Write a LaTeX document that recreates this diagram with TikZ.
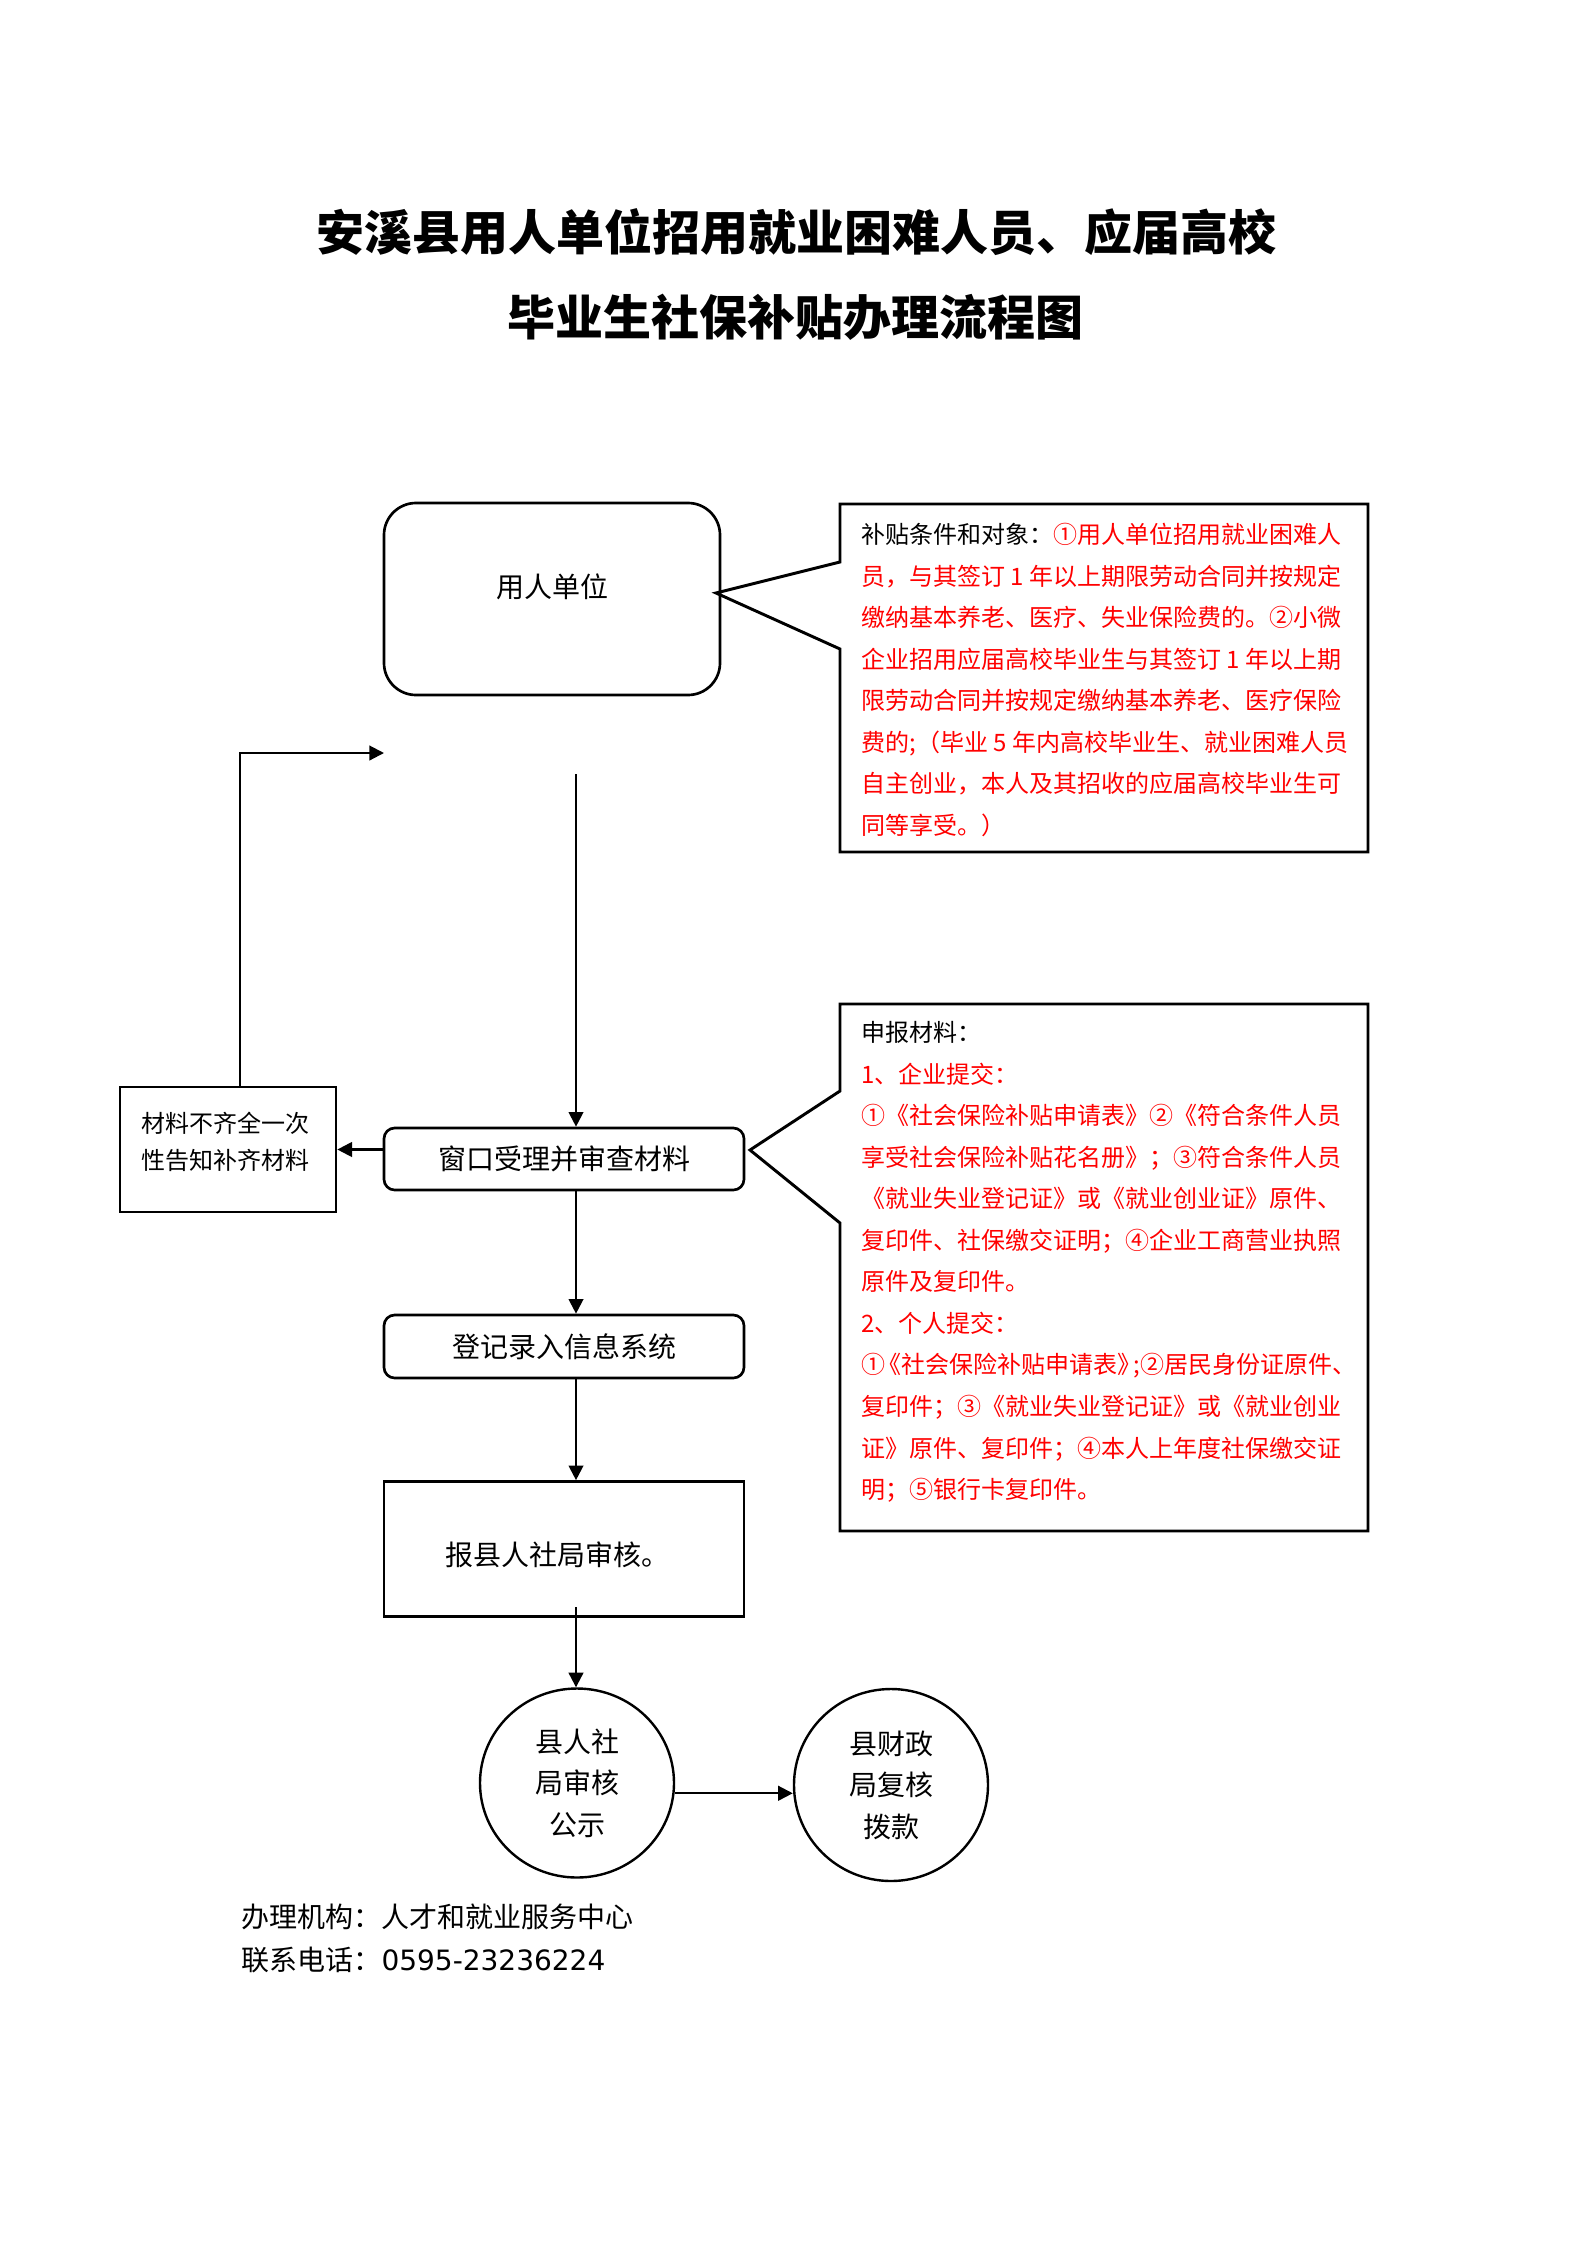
\documentclass[tikz,border=0pt]{standalone}
\usepackage{fontspec}
\setmainfont{Noto Sans CJK SC}
\newfontfamily\dejavu{DejaVu Sans}
\usetikzlibrary{arrows.meta,shapes.geometric}
\newlength\pxu
\setlength\pxu{0.375pt}
\begin{document}
\begin{tikzpicture}[x=0.375pt,y=-0.375pt,
  boxline/.style={draw, line width=1pt, inner sep=0pt},
  rbox/.style={boxline, rounded corners=4pt},
  arr/.style={line width=0.8pt, -{Triangle[length=5.5pt,width=5.5pt]}},
  txt/.style={inner sep=0pt, font=\fontsize{10.5pt}{15.6pt}\selectfont},
  smalltxt/.style={inner sep=0pt, align=left, font=\fontsize{9pt}{15.57pt}\selectfont},
  callout/.style={line width=1.1pt, line join=miter},
  oval/.style={ellipse, draw, line width=0.9pt, inner sep=0pt, align=center, txt},
  titletxt/.style={inner sep=0pt, font=\fontsize{18pt}{22pt}\selectfont\bfseries}
]
\useasboundingbox (0,0) rectangle (1587,2245);
\fill[white] (0,0) rectangle (1587,2245);

% title
\node[titletxt] (title1) at (796,232) {安溪县用人单位招用就业困难人员、应届高校};
\node[titletxt] (title2) at (795,317) {毕业生社保补贴办理流程图};

% employer
\node[boxline, rounded corners=12pt, minimum width=336\pxu, minimum height=192\pxu] (unit) at (552,599) {};
\node[txt] (unitlbl) at (552,587) {用人单位};

% callout 1
\coordinate (tip1) at (716,593);
\draw[callout] (840,504) -- (1368,504) -- (1368,852) -- (840,852) -- (840,649) -- (tip1) -- (840,562) -- cycle;
\node[smalltxt, text=red, anchor=west] (cond) at (861,680) {\textcolor{black}{补贴条件和对象：}①用人单位招用就业困难人\\
员，与其签订 1 年以上期限劳动合同并按规定\\
缴纳基本养老、医疗、失业保险费的。②小微\\
企业招用应届高校毕业生与其签订 1 年以上期\\
限劳动合同并按规定缴纳基本养老、医疗保险\\
费的;（毕业 5 年内高校毕业生、就业困难人员\\
自主创业，本人及其招收的应届高校毕业生可\\
同等享受。）};

% window
\node[rbox, txt, minimum width=360\pxu, minimum height=62\pxu] (win) at (564,1159) {窗口受理并审查材料};

% callout 2
\coordinate (tip2) at (750,1150);
\draw[callout] (840,1004) -- (1368,1004) -- (1368,1531) -- (840,1531) -- (840,1223) -- (tip2) -- (840,1091) -- cycle;
\node[smalltxt, text=red, anchor=west] (mats) at (861,1262) {\textcolor{black}{申报材料：}\\
1、企业提交：\\
①《社会保险补贴申请表》②《符合条件人员\\
享受社会保险补贴花名册》；③符合条件人员\\
《就业失业登记证》或《就业创业证》原件、\\
复印件、社保缴交证明；④企业工商营业执照\\
原件及复印件。\\
2、个人提交：\\
①\kern-3pt《社会保险补贴申请表》\kern-3pt;②居民身份证原件、\\
复印件；③《就业失业登记证》或《就业创业\\
证》原件、复印件；④本人上年度社保缴交证\\
明；⑤银行卡复印件。};

% incomplete materials
\node[boxline, minimum width=216\pxu, minimum height=125\pxu] (mat) at (228,1149.5) {};
\node[inner sep=0pt, align=left, font=\fontsize{9pt}{13.9pt}\selectfont, anchor=west] (matlbl) at (141,1141.5) {材料不齐全一次\\性告知补齐材料};

% register
\node[rbox, txt, minimum width=360\pxu, minimum height=63\pxu] (reg) at (564,1346.5) {登记录入信息系统};

% report
\node[boxline, minimum width=360\pxu, minimum height=135\pxu] (rep) at (564,1549) {};
\node[txt] (replbl) at (557,1555) {报县人社局审核。};

% ovals
\node[oval, minimum width=194\pxu, minimum height=189\pxu] (e1) at (577,1783) {县人社\\局审核\\公示};
\node[oval, minimum width=194\pxu, minimum height=192\pxu] (e2) at (891,1785) {县财政\\局复核\\拨款};

% footer
\node[txt, anchor=west] (org) at (241,1917) {办理机构：人才和就业服务中心};
\node[txt, anchor=west] (tel) at (241,1960) {联系电话：{\dejavu 0595-23236224}};

% connectors
\coordinate (vtop) at (576,774);
\draw[arr] (vtop) -- (vtop |- win.north);
\draw[arr] (win.west |- mat.east) -- (mat.east);
\coordinate (fbtop) at (240,753);
\coordinate (fbend) at (384,753);
\draw[arr] (mat.north -| fbtop) -- (fbtop) -- (fbend);
\draw[arr] (win.south -| vtop) -- (reg.north -| vtop);
\draw[arr] (reg.south -| vtop) -- (rep.north -| vtop);
\coordinate (repout) at (576,1607);
\draw[arr] (repout) -- (repout |- e1.north);
\draw[arr] (e1.-6) -- (e1.-6 -| e2.west);
\end{tikzpicture}
\end{document}
